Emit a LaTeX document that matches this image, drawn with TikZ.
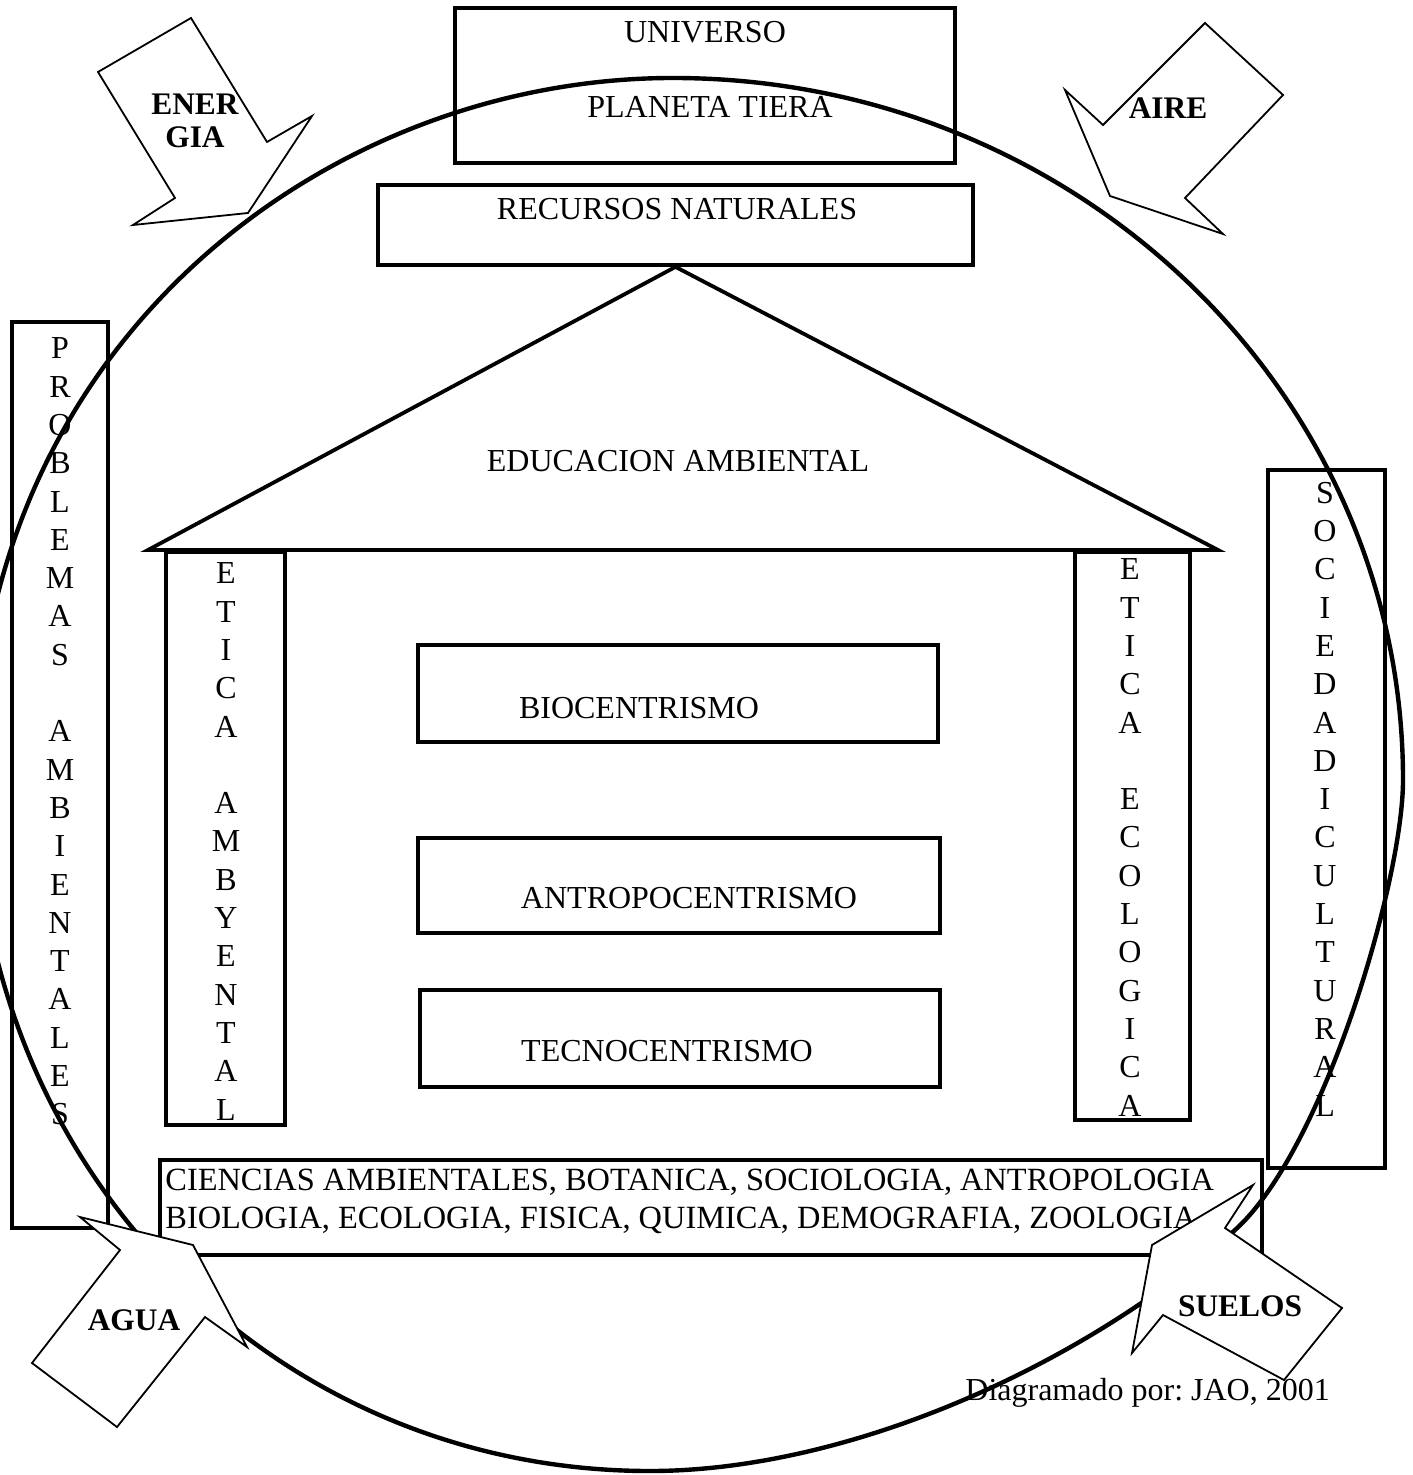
\documentclass[tikz,border=0pt]{standalone}
\usepackage{fontspec}
\setmainfont{Liberation Serif}
\frenchspacing
\begin{document}
\begin{tikzpicture}[x=0.5pt,y=-0.5pt,
  box/.style={draw,line width=1.9pt,inner sep=0pt},
  lbl/.style={font=\fontsize{16}{19.15}\selectfont,inner sep=0pt},
  vlbl/.style={lbl,align=center},
  blbl/.style={font=\bfseries\fontsize{15.7}{16.5}\selectfont,inner sep=0pt,align=center},
  blockarrow/.style={draw,line width=0.9pt,fill=white,line join=miter},
  ring/.style={line width=2.2pt}]
\useasboundingbox (0,0) rectangle (1412,1475);

% outer closed curve
\coordinate (ctop) at (673,78);
\coordinate (cright) at (1403,780);
\coordinate (cq) at (1235,1230);
\coordinate (cbot) at (650,1471);
\coordinate (cleft) at (-25,780);
\draw[ring] (ctop) .. controls (1076,78) and (1403,392) .. (cright)
  .. controls (1403,880) and (1324,1150) .. (cq)
  .. controls (1086,1364) and (850,1471) .. (cbot)
  .. controls (272,1471) and (-25,1167) .. (cleft)
  .. controls (-25,345) and (324,78) .. (ctop) -- cycle;

% boxes
\node[box,minimum width=250pt,minimum height=77.5pt] (univ) at (705,85.5) {};
\node[lbl,anchor=base] (tuniv) at (705,43) {UNIVERSO};
\node[lbl,anchor=base] (tplan) at (710,118) {PLANETA TIERA};
\node[box,minimum width=297.5pt,minimum height=40pt] (recur) at (675.5,225) {};
\node[lbl,anchor=base] (trecur) at (677,220) {RECURSOS NATURALES};

% roof
\coordinate (apex) at (recur.south);
\coordinate (roofl) at (148,550);
\coordinate (roofr) at (1218,550);
\draw[line width=1.9pt,line join=miter] (apex) -- (roofl) -- (roofr) -- cycle;
\node[lbl,anchor=base] (edu) at (678,472) {EDUCACION AMBIENTAL};

% columns
\node[box,minimum width=59.5pt,minimum height=286.5pt] (colL) at (225.5,838.5) {};
\node[vlbl] (tcolL) at (226,841.5) {E\\T\\I\\C\\A\\~\\A\\M\\B\\Y\\E\\N\\T\\A\\L};
\node[box,minimum width=57.5pt,minimum height=284pt] (colR) at (1132.5,836) {};
\node[vlbl] (tcolR) at (1130,837.5) {E\\T\\I\\C\\A\\~\\E\\C\\O\\L\\O\\G\\I\\C\\A};

% side boxes
\node[box,minimum width=48pt,minimum height=453pt] (prob) at (60,775) {};
\node[vlbl] (tprob) at (60,731.5) {P\\R\\O\\B\\L\\E\\M\\A\\S\\~\\A\\M\\B\\I\\E\\N\\T\\A\\L\\E\\S};
\node[box,minimum width=58.5pt,minimum height=349pt] (soc) at (1326.5,819) {};
\node[vlbl] (tsoc) at (1325,799) {S\\O\\C\\I\\E\\D\\A\\D\\I\\C\\U\\L\\T\\U\\R\\A\\L};

% centrisms
\node[box,minimum width=260pt,minimum height=48.5pt] (bio) at (678,693.5) {};
\node[lbl,anchor=base] (tbio) at (639,718) {BIOCENTRISMO};
\node[box,minimum width=261pt,minimum height=47.5pt] (antro) at (679,885.5) {};
\node[lbl,anchor=base] (tantro) at (689,908) {ANTROPOCENTRISMO};
\node[box,minimum width=260pt,minimum height=48.5pt] (tecno) at (680,1038.5) {};
\node[lbl,anchor=base] (ttecno) at (667,1061) {TECNOCENTRISMO};

% sciences
\node[box,minimum width=551pt,minimum height=47.5pt] (cien) at (711,1207.5) {};
\node[lbl,font=\fontsize{16.2}{19}\selectfont,align=left,anchor=west] (tcien) at (165,1201) {CIENCIAS AMBIENTALES, BOTANICA, SOCIOLOGIA, ANTROPOLOGIA\\BIOLOGIA, ECOLOGIA, FISICA, QUIMICA, DEMOGRAFIA, ZOOLOGIA};

% credit
\node[lbl,anchor=base west] (credit) at (965,1400) {Diagramado por: JAO, 2001};

% block arrows
\draw[blockarrow] (98,72) -- (191,18) -- (267,142) -- (312,116) -- (248,213) -- (133,225) -- (175,198) -- cycle;
\node[blbl] (energ) at (195,121) {ENER\\GIA};
\draw[blockarrow] (1205,23) -- (1283,95) -- (1185,198) -- (1223,234) -- (1110,196) -- (1065,90) -- (1103,125) -- cycle;
\node[blbl] (aire) at (1168,108) {AIRE};
\draw[blockarrow] (193,1245) -- (247,1347) -- (205,1317) -- (117,1427) -- (32,1363) -- (120,1250) -- (80,1217) -- cycle;
\node[blbl] (agua) at (134,1320) {AGUA};
\draw[blockarrow] (1152,1245) -- (1253,1185) -- (1225,1228) -- (1342,1308) -- (1284,1380) -- (1163,1315) -- (1132,1353) -- cycle;
\node[blbl] (suelos) at (1240,1306) {SUELOS};
\end{tikzpicture}
\end{document}
